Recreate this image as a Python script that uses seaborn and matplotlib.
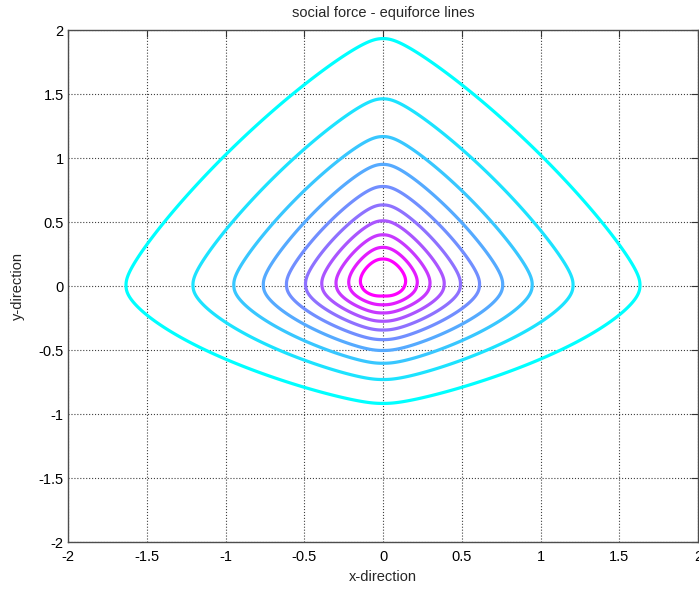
import numpy as np
import matplotlib
matplotlib.use("Agg")
import matplotlib.pyplot as plt
import seaborn as sns

sns.set_theme(style="white")
plt.rcParams['font.family'] = ['Liberation Sans', 'DejaVu Sans']

# social force model parameters (fitted to the equiforce lines of the picture)
A = 1.2060            # interaction strength
lam = 0.8902          # anisotropy, weight of the force from behind
range_front = 0.8523  # range in walking direction (+y)
range_side = 0.6760   # range sideways
range_back = 0.6371   # range behind
back_quad = 1.0915    # extra quadratic decay behind
front_quad = 0.0478   # extra quadratic decay in front
p_front = 1.1304      # shape exponent, front half
p_back = 1.2149       # shape exponent, back half
delta = 0.08          # rounding of the corners

# force values of the drawn equiforce lines
force_levels = [0.1145, 0.2145, 0.3145, 0.4145, 0.5145,
                0.6145, 0.7145, 0.8145, 0.9145, 1.0145]

tick_vals = [-2, -1.5, -1, -0.5, 0, 0.5, 1, 1.5, 2]


def soft(t):
    # smooth |t|
    return np.sqrt(t**2 + delta**2) - delta


# force field on a grid
g = np.linspace(-2, 2, 801)
X, Y = np.meshgrid(g, g)
D = np.hypot(X, Y)
cosphi = np.divide(Y, D, out=np.ones_like(D), where=D > 0)
w = lam + (1 - lam) * (1 + cosphi) / 2

sx = soft(X) / range_side
yf = np.clip(Y, 0, None)
yb = np.clip(-Y, 0, None)
front = (sx**p_front + (soft(yf) / range_front)**p_front)**(1 / p_front) + front_quad * yf**2
back = (sx**p_back + (soft(yb) / range_back)**p_back)**(1 / p_back) + back_quad * yb**2
N = np.where(Y >= 0, front, back)
F = A * w * np.exp(-N)

fig = plt.figure(figsize=(6.99, 5.90), dpi=100)
ax = fig.add_axes([68 / 699, 1 - 542 / 590, 630 / 699, 512 / 590])

ax.contour(X, Y, F, levels=force_levels, cmap='cool', linewidths=2.3)

ax.set_xlim(-2, 2)
ax.set_ylim(-2, 2)
ax.set_xticks(tick_vals)
ax.set_yticks(tick_vals)
ax.set_xticklabels(['%g' % t for t in tick_vals])
ax.set_yticklabels(['%g' % t for t in tick_vals])
ax.tick_params(direction='in', length=5, width=0.8, color='0.2',
               top=True, right=True, labelsize=10.5, labelcolor='black')
ax.tick_params(axis='x', pad=6)
ax.tick_params(axis='y', pad=3)
ax.grid(True, linestyle=':', color='0.25', linewidth=0.8)
ax.set_axisbelow(True)
for s in ax.spines.values():
    s.set_color('0.3')
    s.set_linewidth(1.0)

ax.set_title('social force - equiforce lines', fontsize=10.5, pad=9)
ax.set_xlabel('x-direction', fontsize=10.5, labelpad=4)
ax.set_ylabel('y-direction', fontsize=10.5, labelpad=10)

fig.savefig('out.png', dpi=100)
